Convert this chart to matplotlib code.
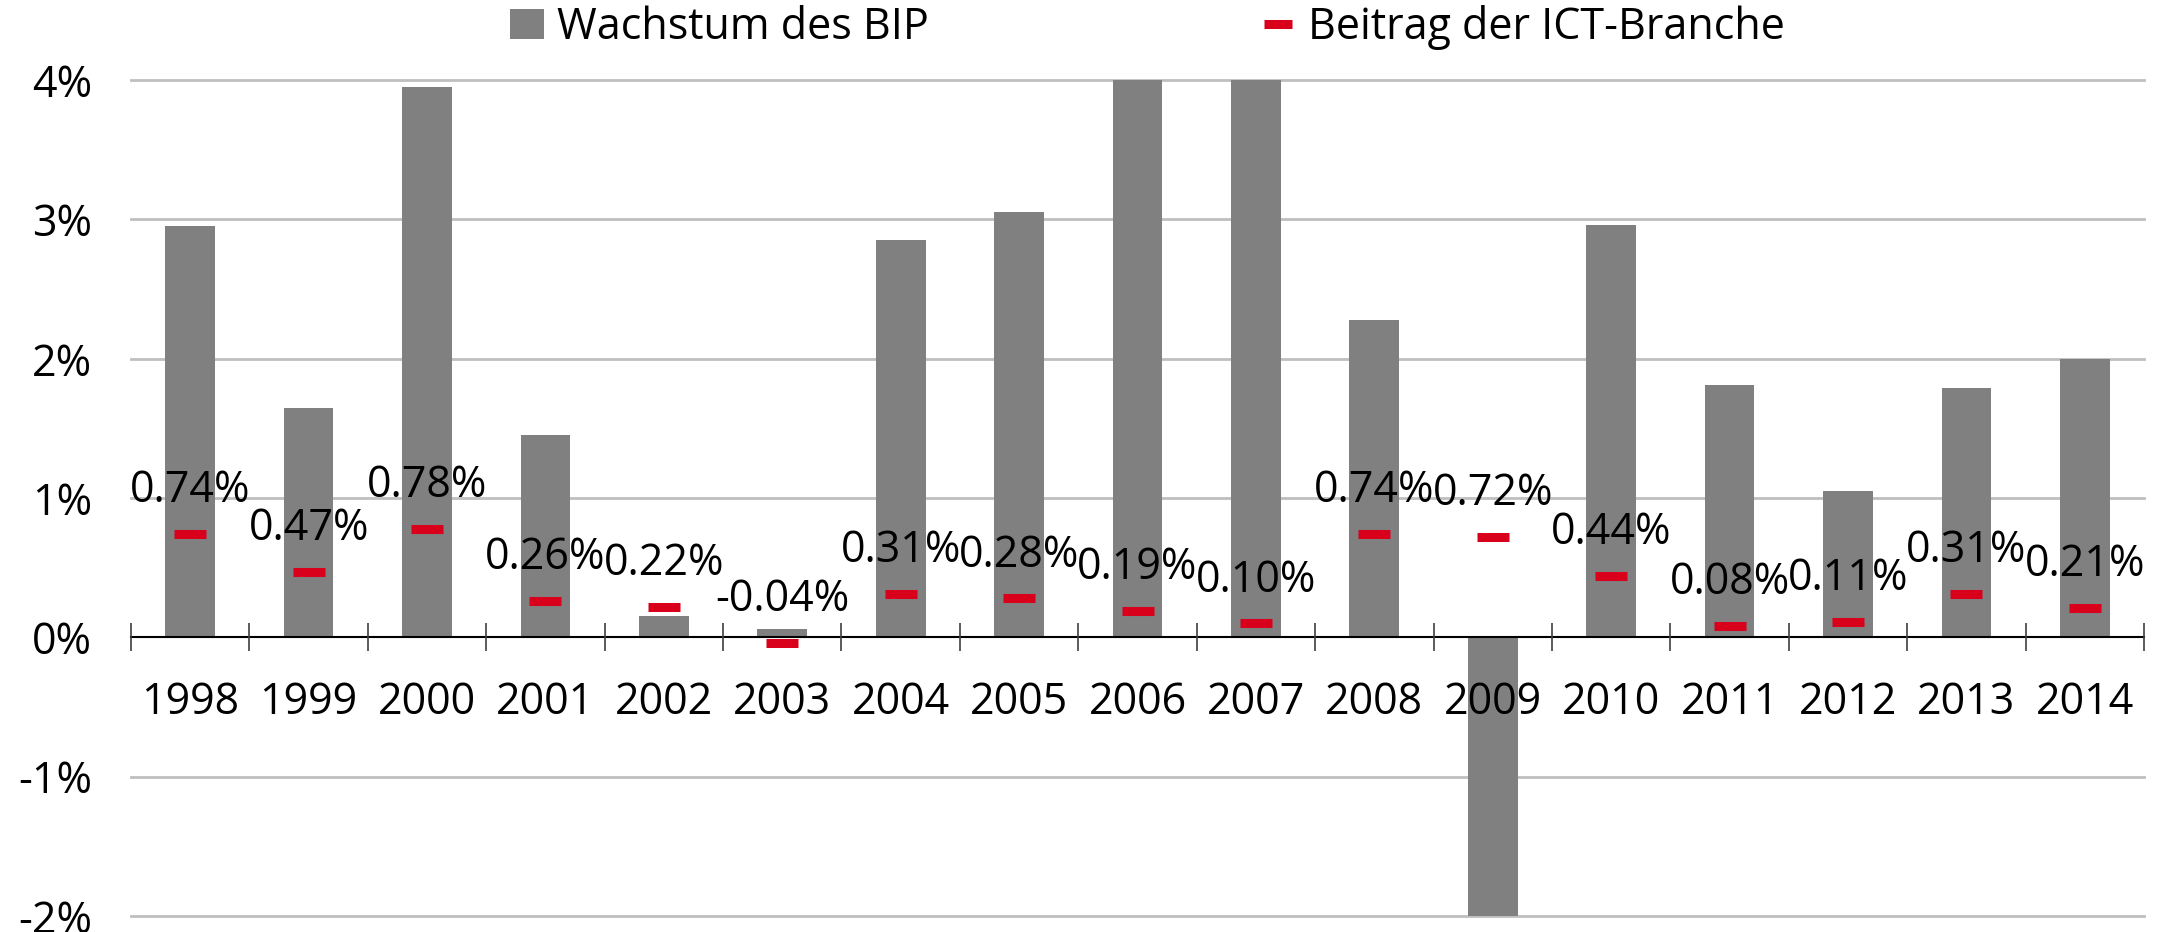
import matplotlib.pyplot as plt
from matplotlib.lines import Line2D
from matplotlib.patches import Patch
import numpy as np

plt.rcParams["font.family"] = ["Open Sans", "DejaVu Sans"]

years = ["1998", "1999", "2000", "2001", "2002", "2003", "2004", "2005", "2006",
         "2007", "2008", "2009", "2010", "2011", "2012", "2013", "2014"]
# GDP growth in % (2006, 2007, 2009 are cut off by the axis limits)
bip = [2.95, 1.65, 3.95, 1.45, 0.15, 0.06, 2.85, 3.05, 4.1,
       4.2, 2.28, -2.2, 2.96, 1.81, 1.05, 1.79, 2.0]
# contribution of ICT sector in %
ict = [0.74, 0.47, 0.78, 0.26, 0.22, -0.04, 0.31, 0.28, 0.19,
       0.10, 0.74, 0.72, 0.44, 0.08, 0.11, 0.31, 0.21]

gray = "#808080"
red = "#D9001B"
fs = 31

fig = plt.figure(figsize=(21.69, 9.32), dpi=100)
ax = fig.add_axes([0.0604, 0.0172, 0.9281, 0.8968])

x = np.arange(len(years))
ax.bar(x, bip, width=0.42, color=gray, zorder=2)
ax.plot(x, ict, linestyle="none", marker="_", markersize=23,
        markeredgewidth=6.5, color=red, zorder=3)

for xi, v in zip(x, ict):
    ax.annotate(f"{v:.2f}%", (xi, v), xytext=(0, 31), textcoords="offset points",
                ha="center", va="center", fontsize=fs, zorder=4)

ax.set_xlim(-0.5, len(years) - 0.5)
ax.set_ylim(-2, 4)
ax.set_yticks([-2, -1, 0, 1, 2, 3, 4])
ax.set_yticklabels(["-2%", "-1%", "0%", "1%", "2%", "3%", "4%"])
for y in [-2, -1, 1, 2, 3, 4]:
    ax.axhline(y, color="#BFBFBF", linewidth=2, zorder=1, clip_on=False)

for s in ["top", "right", "left"]:
    ax.spines[s].set_visible(False)
ax.spines["bottom"].set_position(("data", 0))
ax.spines["bottom"].set_color("black")
ax.spines["bottom"].set_linewidth(1.5)
ax.spines["bottom"].set_zorder(5)
ax.xaxis.set_zorder(5)

ax.set_xticks(x)
ax.set_xticklabels(years)
ax.set_xticks(np.arange(-0.5, len(years)), minor=True)
ax.tick_params(axis="x", which="major", length=0, pad=31, labelsize=fs)
ax.tick_params(axis="x", which="minor", direction="inout", length=20,
               width=1.2, color="#404040")
ax.tick_params(axis="y", length=0, pad=28, labelsize=fs)

handles = [
    Patch(facecolor=gray, edgecolor="none"),
    Line2D([], [], color=red, linestyle="none", marker="_", markersize=20,
           markeredgewidth=6.5),
]
fig.legend(handles, ["Wachstum des BIP", "Beitrag der ICT-Branche"],
           loc="center", bbox_to_anchor=(0.529, 0.97), ncol=2, frameon=False,
           fontsize=fs, columnspacing=7.7, handlelength=0.8, handletextpad=0.3)

fig.savefig("out.png", dpi=100)
